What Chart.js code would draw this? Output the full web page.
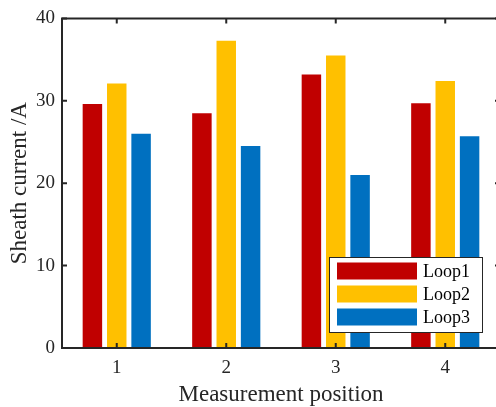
<!DOCTYPE html>
<html>
<head>
<meta charset="utf-8">
<script src="https://cdn.jsdelivr.net/npm/chart.js@4.4.0/dist/chart.umd.min.js"></script>
<style>
  html, body { margin: 0; padding: 0; overflow: hidden; background: #fff; }
  #wrap { width: 506px; height: 410px; }
</style>
</head>
<body>
<div id="wrap"><canvas id="grafico"></canvas></div>
<script>
// valores
const posicoes = ['1', '2', '3', '4'];
const loop1 = [29.6, 28.5, 33.2, 29.7];
const loop2 = [32.1, 37.3, 35.5, 32.4];
const loop3 = [26.0, 24.5, 21.0, 25.7];
const y_ticks = [0, 10, 20, 30, 40];

const cor_eixo = '#262626';
const fonte = 'Liberation Serif, Times New Roman, serif';

// moldura com ticks para dentro + legenda dentro da area
const moldura = {
    id: 'moldura',
    afterDatasetsDraw(chart) {
        const ctx = chart.ctx;
        const a = chart.chartArea;
        const x = chart.scales.x;
        const y = chart.scales.y;
        const tl = 5;
        ctx.save();
        ctx.strokeStyle = cor_eixo;
        ctx.lineWidth = 2;
        ctx.beginPath();
        ctx.rect(a.left, a.top, a.right - a.left, a.bottom - a.top);
        ctx.stroke();
        ctx.beginPath();
        for (let i = 0; i < posicoes.length; i++) {
            let px = x.getPixelForValue(i);
            ctx.moveTo(px, a.bottom); ctx.lineTo(px, a.bottom - tl);
            ctx.moveTo(px, a.top); ctx.lineTo(px, a.top + tl);
        }
        for (let v of y_ticks) {
            let py = y.getPixelForValue(v);
            ctx.moveTo(a.left, py); ctx.lineTo(a.left + tl, py);
            ctx.moveTo(a.right, py); ctx.lineTo(a.right - tl, py);
        }
        ctx.stroke();

        // legenda
        const bx = a.right - 171, by = a.bottom - 91, bw = 153, bh = 75;
        ctx.fillStyle = '#fff';
        ctx.fillRect(bx, by, bw, bh);
        ctx.strokeStyle = cor_eixo;
        ctx.lineWidth = 1;
        ctx.strokeRect(bx + 0.5, by + 0.5, bw, bh);
        ctx.font = '18px ' + fonte;
        ctx.textBaseline = 'middle';
        ctx.textAlign = 'left';
        chart.data.datasets.forEach(function(ds, i) {
            let cy = by + 14 + i * 23;
            ctx.fillStyle = ds.backgroundColor;
            ctx.fillRect(bx + 8, cy - 8.5, 80, 17);
            ctx.fillStyle = '#000';
            ctx.fillText(ds.label, bx + 94, cy + 1);
        });
        ctx.restore();
    }
};

const ctx = document.getElementById('grafico').getContext('2d');
const myChart = new Chart(ctx, {
    type: 'bar',
    data: {
        labels: posicoes,
        datasets: [
            { label: 'Loop1', data: loop1, backgroundColor: '#C00000', borderWidth: 0 },
            { label: 'Loop2', data: loop2, backgroundColor: '#FFC000', borderWidth: 0 },
            { label: 'Loop3', data: loop3, backgroundColor: '#0070C0', borderWidth: 0 }
        ]
    },
    options: {
        responsive: true,
        maintainAspectRatio: false,
        animation: false,
        categoryPercentage: 0.667,
        barPercentage: 0.8,
        layout: { padding: { left: 0, right: 6, top: 16, bottom: 0 } },
        plugins: {
            legend: { display: false },
            tooltip: { enabled: false }
        },
        scales: {
            x: {
                offset: true,
                grid: { display: false, drawTicks: false },
                border: { display: false },
                ticks: { color: cor_eixo, padding: 9, font: { family: fonte, size: 19 } },
                title: {
                    display: true,
                    text: 'Measurement position',
                    color: cor_eixo,
                    padding: { top: 0, bottom: 1 },
                    font: { family: fonte, size: 23 }
                },
                afterFit: function(scale) { scale.height = 62; }
            },
            y: {
                min: 0,
                max: 40,
                grid: { display: false, drawTicks: false },
                border: { display: false },
                ticks: { stepSize: 10, color: cor_eixo, padding: 7, font: { family: fonte, size: 19 } },
                title: {
                    display: true,
                    text: 'Sheath current /A',
                    color: cor_eixo,
                    padding: { top: 6, bottom: 0 },
                    font: { family: fonte, size: 23 }
                },
                afterFit: function(scale) { scale.width = 62; }
            }
        }
    },
    plugins: [moldura]
});
</script>
</body>
</html>
